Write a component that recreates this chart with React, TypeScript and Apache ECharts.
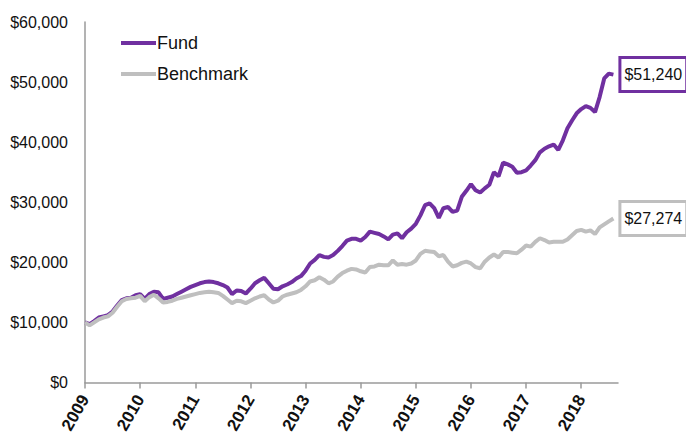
import React, { useEffect, useRef } from "react";
import * as echarts from "echarts";

const startYear = 2009;
const yearTicks = [0, 12, 24, 36, 48, 60, 72, 84, 96, 108];
const yTicks = [0, 10000, 20000, 30000, 40000, 50000, 60000];

const fund = [
  10000, 9700, 10200, 10800, 11000, 11200, 11800, 12800, 13700, 14000, 14100, 14500,
  14700, 13900, 14700, 15100, 15000, 13900, 14100, 14300, 14700, 15100, 15500, 15900,
  16200, 16500, 16700, 16800, 16700, 16500, 16200, 15800, 14700, 15300, 15200, 14800,
  15600, 16500, 17000, 17400, 16500, 15600, 15500, 16000, 16300, 16700, 17300, 17700,
  18600, 19800, 20400, 21200, 20900, 20800, 21200, 21900, 22700, 23600, 23900, 23900,
  23600, 24200, 25100, 24900, 24700, 24300, 23800, 24600, 24800, 24000, 25000, 25600,
  26400, 27800, 29500, 29800, 29000, 27400, 29000, 29200, 28400, 28600, 30900, 31900,
  33000, 32000, 31600, 32300, 32900, 35000, 34300, 36600, 36300, 35900, 34900, 35000,
  35300, 36100, 37000, 38300, 38900, 39300, 39600, 38700, 40300, 42300, 43600, 44800,
  45500, 46000, 45700, 45000, 47500, 50600, 51400, 51240,
];

const benchmark = [
  10000, 9500, 10000, 10500, 10800, 11000, 11600, 12600, 13500, 13900, 14000, 14100,
  14400, 13500, 14200, 14600, 14000, 13300, 13400, 13600, 13900, 14100, 14300, 14500,
  14700, 14900, 15000, 15100, 15000, 14900, 14400, 13800, 13200, 13600, 13500, 13200,
  13600, 14000, 14300, 14500, 13800, 13300, 13600, 14300, 14600, 14800, 15000, 15400,
  16000, 16800, 17000, 17500, 17100, 16500, 16800, 17600, 18200, 18600, 18900, 18800,
  18500, 18300, 19200, 19300, 19600, 19500, 19500, 20300, 19600, 19700, 19600, 19800,
  20300, 21400, 21900, 21800, 21700, 21000, 21200, 20100, 19300, 19500, 19900, 20100,
  19800, 19200, 19000, 20100, 20800, 21300, 20800, 21700, 21700, 21600, 21500, 22100,
  22800, 22600, 23400, 24000, 23700, 23300, 23400, 23400, 23400, 23800, 24500, 25200,
  25400, 25100, 25300, 24700, 25800, 26300, 26800, 27274,
];

const FONT = "'Liberation Sans', Arial, sans-serif";
const PURPLE = "#7030A0";
const GRAY = "#BFBFBF";

const fmtMoney = (v: number) => "$" + Math.round(v).toLocaleString("en-US");

export default function App() {
  const ref = useRef<HTMLDivElement>(null);
  useEffect(() => {
    if (!ref.current) return;
    const chart = echarts.init(ref.current, undefined, { renderer: "svg" });
    const mk = (arr: number[]) => arr.map((v, i) => [i, v]);
    const endLabel = (arr: number[], border: string) => ({
      show: true,
      formatter: () => fmtMoney(arr[arr.length - 1]),
      distance: 8,
      fontFamily: FONT,
      fontSize: 16,
      color: "#111",
      backgroundColor: "#fff",
      borderColor: border,
      borderWidth: 3,
      padding: [8, 3, 7, 3],
    });
    chart.setOption({
      animation: false,
      backgroundColor: "#ffffff",
      grid: { left: 85, right: 68, top: 22, bottom: 53, containLabel: false },
      legend: {
        orient: "vertical",
        left: 116,
        top: 28,
        itemWidth: 35,
        itemHeight: 4,
        itemGap: 11,
        icon: "rect",
        data: ["Fund", "Benchmark"],
        textStyle: { fontFamily: FONT, fontSize: 18, color: "#111", lineHeight: 20, padding: [0, 0, 0, -4] },
      },
      xAxis: {
        type: "value",
        min: 0,
        max: 116,
        interval: 12,
        splitLine: { show: false },
        axisLine: { lineStyle: { color: "#9a9a9a", width: 1.5 } },
        axisTick: { show: true, length: 6, customValues: yearTicks, lineStyle: { color: "#9a9a9a", width: 1.5 } },
        axisLabel: {
          customValues: yearTicks,
          rotate: 60,
          margin: 14,
          fontFamily: FONT,
          fontWeight: "bold",
          fontSize: 17,
          color: "#111",
          formatter: (v: number) => String(startYear + Math.round(v / 12)),
        },
      },
      yAxis: {
        type: "value",
        min: 0,
        max: 60000,
        interval: 10000,
        splitLine: { show: false },
        axisLine: { show: true, lineStyle: { color: "#9a9a9a", width: 1.5 } },
        axisTick: { show: false },
        axisLabel: {
          customValues: yTicks,
          margin: 17,
          fontFamily: FONT,
          fontSize: 16,
          color: "#111",
          formatter: (v: number) => fmtMoney(v),
        },
      },
      series: [
        {
          name: "Fund",
          type: "line",
          data: mk(fund),
          showSymbol: false,
          color: PURPLE,
          lineStyle: { color: PURPLE, width: 4 },
          endLabel: endLabel(fund, PURPLE),
        },
        {
          name: "Benchmark",
          type: "line",
          data: mk(benchmark),
          showSymbol: false,
          color: GRAY,
          lineStyle: { color: GRAY, width: 4 },
          endLabel: endLabel(benchmark, GRAY),
        },
      ],
    });
    return () => chart.dispose();
  }, []);
  return (
    <div
      ref={ref}
      style={{ position: "fixed", left: 0, top: 0, width: 686, height: 436 }}
    />
  );
}
